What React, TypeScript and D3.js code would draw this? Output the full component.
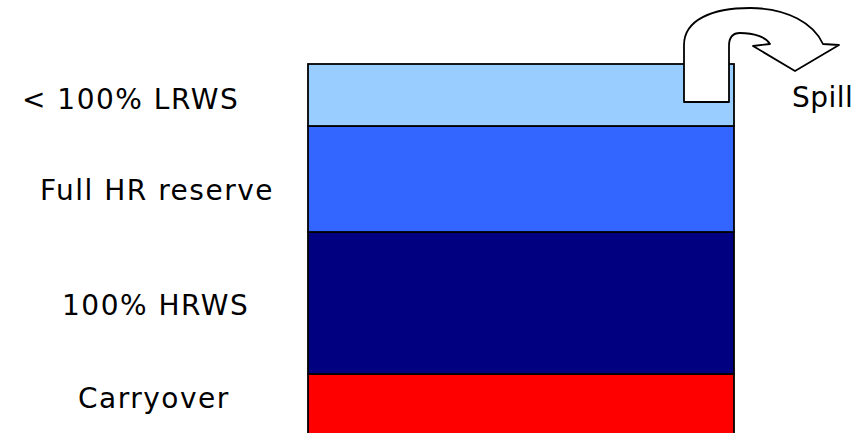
import React, { useEffect, useRef } from "react";
import * as d3 from "d3";

const categories = ["Carryover", "100% HRWS", "Full HR reserve", "< 100% LRWS"];
const values = [66, 142, 106, 62];
const colors = ["#FF0000", "#000080", "#3366FF", "#99CCFF"];
const labelLeft = [78, 62, 40, 22];
const labelDy = [1, 12, 21, 14];
const spillLabel = "Spill";

export default function App() {
  const ref = useRef<SVGSVGElement>(null);
  useEffect(() => {
    const svg = d3.select(ref.current);
    svg.selectAll("*").remove();
    const total = d3.sum(values);
    const y = d3.scaleLinear().domain([0, total]).range([440, 64]);
    const x = d3.scaleBand().domain(["storage"]).range([308, 734]).padding(0);
    const stack = d3.stack<any>().keys(categories)([
      Object.fromEntries(categories.map((c, i) => [c, values[i]])),
    ]);
    const g = svg.append("g");
    g.selectAll("rect")
      .data(stack)
      .join("rect")
      .attr("x", x("storage")!)
      .attr("width", x.bandwidth())
      .attr("y", (d) => y(d[0][1]))
      .attr("height", (d) => y(d[0][0]) - y(d[0][1]))
      .attr("fill", (_, i) => colors[i])
      .attr("stroke", "#000")
      .attr("stroke-width", 1.8);

    g.selectAll("text.lab")
      .data(stack)
      .join("text")
      .attr("class", "lab")
      .attr("x", (_, i) => labelLeft[i])
      .attr("y", (d, i) => (y(d[0][0]) + y(d[0][1])) / 2 + labelDy[i])
      .attr("font-family", "DejaVu Sans, Verdana, sans-serif")
      .attr("font-size", 28)
      .attr("letter-spacing", 1.5)
      .attr("fill", "#000")
      .text((d) => d.key);

    // spill arrow
    const p = d3.path();
    p.moveTo(684, 102);
    p.lineTo(684, 45);
    p.bezierCurveTo(684, 20, 712, 8, 750, 8);
    p.bezierCurveTo(788, 8, 814, 24, 823, 44);
    p.lineTo(839, 45);
    p.lineTo(795, 71);
    p.lineTo(753, 46);
    p.lineTo(770, 44);
    p.bezierCurveTo(766, 37, 754, 33, 740, 33);
    p.bezierCurveTo(732, 33, 729, 38, 729, 46);
    p.lineTo(729, 102);
    p.closePath();
    svg
      .append("path")
      .attr("d", p.toString())
      .attr("fill", "#fff")
      .attr("stroke", "#000")
      .attr("stroke-width", 1.8)
      .attr("stroke-linejoin", "round");

    svg
      .append("text")
      .attr("x", 792)
      .attr("y", 107)
      .attr("font-family", "DejaVu Sans, Verdana, sans-serif")
      .attr("font-size", 28)
      .attr("letter-spacing", 0.5)
      .attr("fill", "#000")
      .text(spillLabel);
  }, []);
  return (
    <svg
      ref={ref}
      width={865}
      height={433}
      style={{ position: "absolute", left: 0, top: 0, background: "#fff" }}
    />
  );
}
